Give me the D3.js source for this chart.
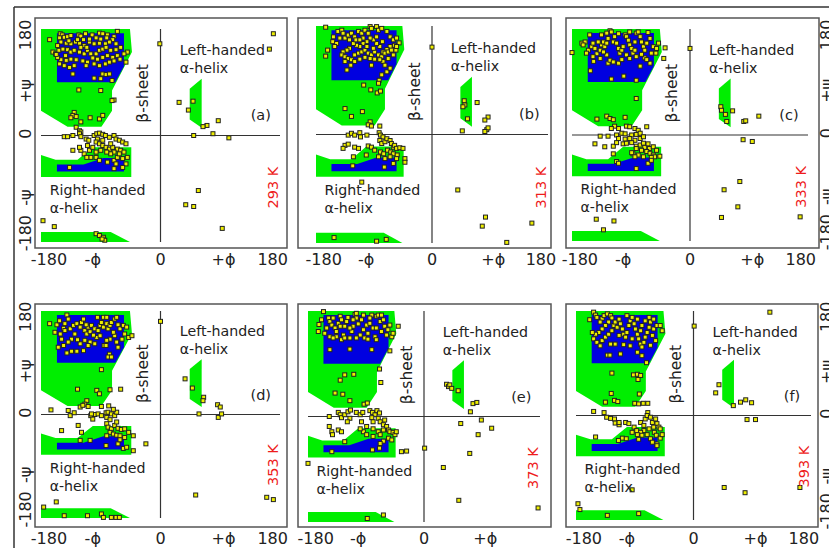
<!DOCTYPE html>
<html><head><meta charset="utf-8">
<script src="https://cdn.jsdelivr.net/npm/d3@7"></script>
<style>html,body{margin:0;padding:0;background:#fff;}svg{display:block;font-family:"DejaVu Sans",sans-serif;}</style>
</head><body><svg id="chart" width="829" height="548"></svg>
<script>
// ---------- DATA ----------
const panelLetters = ["(a)","(b)","(c)","(d)","(e)","(f)"];
const temperatures = ["293 K","313 K","333 K","353 K","373 K","393 K"];
const xTickValues = [-168,-102,0,95,169];
const xTickLabels = ["-180","-\u03d5","0","+\u03d5","180"];
const yTickValues = [170,75,3,-105,-165];
const yTickLabels = ["180","+\u03c8","0","-\u03c8","-180"];

// allowed regions (phi, psi in degrees)
const greenRegions = [
  [[-180,180],[-46,180],[-43,141],[-73,76],[-73,42],[-89,15],[-140,15],[-180,42]],
  [[-180,-33],[-158,-41],[-125,-41],[-102,-20],[-44,-20],[-44,-70],[-180,-70]],
  [[-180,-163],[-75,-163],[-46,-180],[-180,-180]],
  [[44,79],[62,96],[62,13],[44,27]]
];
const blueRegions = [
  [[-156,173],[-55,173],[-55,117],[-68,90],[-156,90]],
  [[-156,-49],[-116,-49],[-86,-38],[-55,-38],[-55,-61],[-156,-61]]
];

const pointsA = [
[-167,162],[-151,172],[-148,170],[-152,165],[-145,166],[-140,167],[-135,169],[-123,170],[-120,168],[-113,172],[-103,170],[-92,173],[-87,172],[-80,170],[-70,167],[-65,176],[-72,162],[-77,158],[-83,155],[-92,156],[-100,155],[-107,158],[-115,152],[-122,156],[-128,158],[-135,155],[-142,156],[-150,158],[-155,152],[-162,141],[-158,138],[-153,144],[-147,146],[-140,145],[-135,141],[-130,144],[-122,141],[-115,138],[-110,144],[-105,138],[-97,138],[-92,144],[-87,146],[-82,149],[-75,144],[-67,145],[-60,149],[-50,141],[-55,138],[-65,135],[-72,132],[-80,135],[-87,132],[-95,129],[-102,131],[-110,124],[-117,126],[-127,128],[-135,129],[-142,127],[-150,128],[-155,132],[-145,118],[-137,115],[-130,118],[-112,118],[-100,121],[-92,118],[-83,121],[-77,124],[-70,126],[-61,129],[-52,124],[-132,104],[-87,104],[-82,103],[-77,104],[-100,97],[-90,96],[-73,93],[-157,137],[-143,135],[-120,149],[-111,149],[-90,163],[-81,165],[-125,162],[-138,160],[-67,155],[-107,163],[-97,165],[-116,162],[-152,121],
[-123,77],[-90,76],[-70,60],[-73,59],[-130,39],[-132,34],[-135,30],[-127,32],[-120,23],[-106,30],[-92,28],[-87,34],[-127,14],[-122,8],[-120,6],
[-145,-2],[-140,-2],[-132,0],[-122,3],[-120,-2],[-112,-6],[-108,-8],[-100,0],[-96,3],[-92,4],[-87,2],[-83,0],[-77,-3],[-70,0],[-67,-6],[-62,-8],[-57,-11],[-52,-14],[-95,-6],[-97,-11],[-92,-14],[-87,-17],[-82,-20],[-77,-23],[-72,-20],[-65,-23],[-60,-25],[-55,-28],[-70,-28],[-75,-31],[-81,-28],[-90,-25],[-97,-28],[-107,-25],[-115,-31],[-120,-25],[-132,-25],[-110,-17],[-102,-20],[-97,-37],[-105,-37],[-111,-37],[-92,-42],[-80,-45],[-70,-42],[-65,-37],[-57,-39],[-52,-48],[-70,-56],[-137,-54],[-50,-37],[-75,-14],[-122,-20],[-87,-8],[-62,-31],[-67,-48],[-57,-54],
[-177,-144],[-160,-154],[-97,-166],[-92,-169],[-86,-172],[-84,-177],[-88,-175],
[-1,155],[170,172],[164,146],[28,56],[49,58],[42,43],[87,25],[70,17],[64,15],[50,0],[79,3],[103,-4],[57,-93],[38,-117],[50,-120],[93,-157]
];
const pointsB = [
[-165,178],[-153,162],[-154,154],[-162,140],[-165,130],[-146,171],[-140,173],[-138,168],[-143,160],[-148,151],[-151,146],[-135,160],[-130,165],[-125,168],[-120,162],[-114,171],[-109,168],[-104,173],[-96,179],[-94,176],[-86,179],[-83,173],[-78,176],[-70,171],[-65,162],[-60,157],[-55,160],[-51,152],[-58,148],[-65,146],[-70,141],[-76,137],[-81,146],[-86,151],[-91,157],[-96,160],[-101,154],[-107,151],[-112,146],[-117,148],[-122,151],[-128,143],[-132,140],[-138,137],[-140,132],[-135,129],[-130,126],[-125,124],[-120,132],[-114,135],[-109,137],[-104,140],[-99,135],[-94,132],[-89,137],[-83,132],[-78,129],[-73,135],[-68,137],[-63,140],[-56,140],[-60,132],[-68,126],[-76,121],[-81,124],[-89,125],[-96,126],[-104,128],[-112,125],[-120,121],[-126,115],[-132,107],[-135,121],[-73,115],[-70,104],[-78,99],[-82,90],[-65,110],[-107,160],[-99,168],[-118,157],[-91,143],[-101,146],[-128,157],[-112,157],[-86,162],[-55,146],[-77,154],[-94,115],
[-106,82],[-83,85],[-95,74],[-85,69],[-80,72],[-135,43],[-108,38],[-125,30],[-96,21],[-99,16],[-94,14],[-81,14],
[-130,-1],[-125,2],[-120,-1],[-112,3],[-111,-4],[-101,-1],[-82,3],[-80,-1],[-76,-4],[-135,-18],[-138,-23],[-130,-16],[-120,-21],[-114,-23],[-99,-19],[-94,-21],[-89,-26],[-81,-10],[-78,-15],[-73,-12],[-70,-7],[-65,-10],[-63,-15],[-60,-21],[-58,-18],[-55,-23],[-50,-22],[-45,-23],[-80,-29],[-75,-32],[-69,-26],[-64,-29],[-60,-32],[-54,-34],[-42,-40],[-42,-46],[-122,-37],[-102,-34],[-83,-37],[-73,-40],[-65,-37],[-55,-40],[-123,-52],[-74,-54],[-60,-48],[-109,-79],
[-152,-171],[-86,-177],[-71,-174],
[0,145],[50,56],[51,49],[48,46],[70,53],[55,26],[87,29],[82,24],[85,8],[87,11],[82,5],[47,6],[40,-92],[83,-137],[78,-152],[155,-147],[116,-179]
];
const pointsC = [
[-180,140],[-165,156],[-160,158],[-163,153],[-153,170],[-152,109],[-155,144],[-150,150],[-148,156],[-145,147],[-142,138],[-137,144],[-135,153],[-132,158],[-130,150],[-127,156],[-125,164],[-122,177],[-120,175],[-117,158],[-115,167],[-112,156],[-109,147],[-107,139],[-104,144],[-102,150],[-99,170],[-97,167],[-94,161],[-92,153],[-89,147],[-87,139],[-84,144],[-82,173],[-79,175],[-76,167],[-74,158],[-71,150],[-69,144],[-66,156],[-64,174],[-61,164],[-59,139],[-56,150],[-51,147],[-52,139],[-48,156],[-38,148],[-40,130],[-61,122],[-76,117],[-82,93],[-120,95],[-101,100],[-125,122],[-122,127],[-117,124],[-109,122],[-104,128],[-127,136],[-137,130],[-148,133],[-132,141],[-97,136],[-92,130],[-69,131],[-74,137],[-82,133],[-140,158],[-147,125],[-92,175],[-109,172],[-127,173],[-135,170],[-158,139],[-84,158],[-66,128],
[-82,62],[-142,27],[-127,32],[-122,28],[-117,26],[-99,30],[-109,11],[-115,15],[-120,11],[-97,15],[-92,14],[-84,11],[-66,14],[-79,8],
[-137,-2],[-125,-2],[-112,0],[-104,3],[-99,2],[-89,0],[-82,1],[-76,3],[-109,-6],[-99,-7],[-92,-6],[-84,-9],[-76,-6],[-71,-3],[-145,-15],[-130,-20],[-117,-19],[-112,-13],[-102,-15],[-97,-14],[-89,-13],[-82,-19],[-76,-17],[-71,-14],[-69,-21],[-64,-15],[-62,-23],[-56,-20],[-51,-26],[-82,-23],[-74,-26],[-66,-28],[-61,-31],[-56,-34],[-46,-36],[-54,-37],[-59,-38],[-71,-37],[-79,-34],[-87,-32],[-89,-30],[-84,-37],[-117,-32],[-112,-45],[-109,-48],[-82,-57],[-64,-48],[-59,-43],
[-143,-143],[-116,-146],[-132,-161],
[0,147],[47,48],[48,42],[54,35],[65,41],[56,23],[82,23],[85,24],[105,32],[81,-8],[95,-11],[76,-79],[52,-93],[73,-122],[48,-140],[168,-139]
];
const pointsD = [
[-167,158],[-156,156],[-152,163],[-141,173],[-139,166],[-146,150],[-159,143],[-151,140],[-149,131],[-154,117],[-144,146],[-136,149],[-131,155],[-126,158],[-121,152],[-119,160],[-116,166],[-129,140],[-134,131],[-139,126],[-114,146],[-111,140],[-106,144],[-109,152],[-104,155],[-99,149],[-94,146],[-91,155],[-89,160],[-86,152],[-81,158],[-79,149],[-76,155],[-74,160],[-69,166],[-66,169],[-64,156],[-61,149],[-56,155],[-51,152],[-54,140],[-48,134],[-43,137],[-58,131],[-69,137],[-76,131],[-81,129],[-85,120],[-99,123],[-106,126],[-114,129],[-121,123],[-116,111],[-126,110],[-134,110],[-141,107],[-77,105],[-79,100],[-74,100],[-82,120],[-96,134],[-91,137],[-71,143],[-66,126],[-101,138],[-125,130],[-112,156],[-95,169],[-86,169],[-81,169],[-109,120],[-146,120],[-144,158],[-64,117],
[-89,78],[-125,44],[-96,42],[-92,36],[-76,43],[-60,44],[-111,24],[-114,18],[-89,14],[-78,15],
[-165,8],[-139,7],[-136,-2],[-130,3],[-121,13],[-117,16],[-109,14],[-105,-2],[-102,-8],[-99,0],[-94,1],[-89,-2],[-82,3],[-79,4],[-74,1],[-69,-2],[-66,4],[-71,9],[-104,1],[-81,-5],[-76,-9],[-149,-28],[-124,-19],[-119,-31],[-121,-45],[-106,-45],[-81,-16],[-79,-22],[-74,-25],[-69,-19],[-66,-13],[-64,-24],[-59,-26],[-54,-25],[-48,-31],[-41,-37],[-76,-31],[-71,-34],[-66,-36],[-61,-37],[-54,-40],[-81,-37],[-64,-51],[-56,-59],[-51,-57],[-41,-63],[-22,-51],[-82,-54],[-61,-44],
[-176,-161],[-157,-152],[-145,-176],[-110,-176],[-89,-173],[-86,-179],[-74,-179],[-67,-179],[-62,-179],
[0,162],[37,62],[48,46],[65,30],[64,24],[58,1],[86,17],[90,13],[87,-5],[92,1],[53,-140],[160,-144],[170,-148]
];
const pointsE = [
[-156,179],[-159,165],[-163,157],[-164,145],[-148,168],[-146,162],[-143,156],[-151,151],[-154,142],[-141,168],[-138,151],[-136,145],[-133,159],[-130,171],[-128,165],[-125,139],[-123,154],[-120,162],[-118,169],[-115,134],[-112,145],[-110,154],[-107,174],[-105,176],[-102,158],[-99,139],[-97,165],[-94,148],[-92,134],[-89,156],[-87,142],[-84,159],[-81,173],[-79,151],[-76,136],[-74,171],[-71,173],[-68,162],[-66,145],[-63,165],[-61,154],[-58,139],[-56,148],[-53,156],[-50,136],[-48,142],[-40,154],[-53,112],[-69,81],[-146,114],[-115,115],[-81,114],[-146,136],[-136,136],[-128,131],[-105,134],[-87,132],[-74,131],[-141,134],[-115,151],[-74,151],[-105,168],[-94,173],[-130,154],[-66,173],[-84,168],[-123,134],[-110,165],
[-109,72],[-123,71],[-130,62],[-67,58],[-138,40],[-126,38],[-115,27],[-93,21],[-88,23],
[-147,0],[-133,7],[-130,3],[-128,-2],[-123,3],[-118,8],[-114,11],[-115,-3],[-119,-9],[-105,7],[-99,3],[-95,7],[-97,-9],[-84,10],[-80,7],[-76,3],[-73,10],[-69,6],[-81,-2],[-79,-9],[-71,-3],[-68,-9],[-61,-6],[-63,-14],[-58,-17],[-55,-23],[-53,-26],[-48,-27],[-45,-31],[-43,-26],[-63,-23],[-71,-26],[-79,-21],[-89,-17],[-94,-26],[-99,-21],[-147,-17],[-143,-26],[-142,-31],[-133,-23],[-128,-26],[-89,-31],[-79,-34],[-68,-31],[-55,-37],[-50,-40],[-63,-42],[-68,-46],[-123,-43],[-69,-54],[-80,-57],[-143,-60],[-35,-60],[-27,-59],[-180,-80],
[-88,-174],[-63,-168],
[1,-54],[35,55],[38,51],[40,54],[43,48],[53,44],[76,22],[82,24],[72,8],[57,-12],[89,-6],[105,-20],[84,-31],[71,-63],[30,-87],[54,-143],[177,-156]
];
const pointsF = [
[-159,165],[-153,178],[-150,173],[-148,169],[-140,167],[-143,161],[-137,172],[-132,175],[-127,172],[-125,168],[-130,161],[-135,155],[-140,149],[-145,143],[-150,140],[-155,143],[-153,132],[-148,126],[-140,129],[-135,135],[-130,140],[-125,146],[-122,155],[-120,161],[-117,152],[-114,166],[-112,158],[-109,149],[-107,140],[-104,135],[-102,143],[-99,155],[-97,163],[-94,169],[-91,158],[-89,149],[-86,140],[-84,132],[-81,123],[-79,118],[-76,126],[-74,135],[-71,143],[-68,152],[-66,161],[-68,169],[-74,163],[-79,155],[-81,146],[-63,138],[-61,149],[-56,155],[-51,155],[-48,146],[-58,129],[-66,121],[-72,91],[-86,109],[-79,103],[-112,106],[-132,104],[-128,104],[-107,122],[-120,123],[-97,120],[-94,132],[-127,123],[-143,120],[-114,138],[-102,172],[-86,166],[-61,166],
[-125,73],[-92,70],[-86,71],[-81,69],[-85,62],[-126,38],[-83,37],[-135,23],[-121,26],[-116,24],[-90,21],[-84,20],[-77,21],[-70,21],
[-153,7],[-137,5],[-133,-3],[-127,-5],[-121,-6],[-120,-13],[-114,-16],[-114,-12],[-104,-12],[-99,-14],[-91,-20],[-87,-26],[-81,-12],[-76,-17],[-74,-6],[-70,5],[-71,0],[-66,-3],[-63,-12],[-58,-6],[-56,-14],[-53,-20],[-51,-23],[-61,-20],[-68,-23],[-76,-26],[-81,-29],[-86,-33],[-94,-29],[-79,-34],[-71,-33],[-66,-40],[-60,-29],[-57,-34],[-51,-39],[-48,-33],[-56,-49],[-63,-46],[-109,-39],[-115,-43],[-103,-40],[-150,-37],[-56,-52],[-84,-41],
[-177,-152],[-174,-162],[-132,-172],[-84,-169],
[1,154],[117,178],[39,53],[34,39],[61,17],[72,23],[80,27],[89,22],[82,-7],[95,-7],[47,-124],[79,-133],[163,-124],[-94,-128]
];
const panelPoints = [pointsA,pointsB,pointsC,pointsD,pointsE,pointsF];

// ---------- LAYOUT ----------
const layout = [
  {box:[35,18,287,248],  x:[41,280],  y:[242,29],  leftY:true},
  {box:[298,18,551,248], x:[316,548], y:[243,26]},
  {box:[566,18,819,248], x:[572,808], y:[241,29],  rightY:true},
  {box:[35,304,287,527], x:[41,280],  y:[518,311], leftY:true},
  {box:[298,304,551,527],x:[308,540], y:[522,311], skipLastX:true},
  {box:[566,304,818,527],x:[576,811], y:[520,311], rightY:true}
];

const svg = d3.select("#chart");
const GREEN = "#00ee00", BLUE = "#0000e0", RED = "#ee1c1c";

// outer frame
svg.append("line").attr("x1",14).attr("x2",14).attr("y1",7).attr("y2",548).attr("stroke","#333").attr("stroke-width",1.5);
svg.append("line").attr("x1",14).attr("x2",829).attr("y1",7).attr("y2",7).attr("stroke","#333").attr("stroke-width",1.5);

layout.forEach((L,i)=>{
  const g = svg.append("g");
  const xs = d3.scaleLinear().domain([-180,180]).range(L.x);
  const ys = d3.scaleLinear().domain([-180,180]).range(L.y);
  const line = d3.line().x(d=>xs(d[0])).y(d=>ys(d[1]));
  const [bx0,by0,bx1,by1] = L.box;

  g.append("rect").attr("x",bx0).attr("y",by0).attr("width",bx1-bx0).attr("height",by1-by0)
    .attr("fill","#fff").attr("stroke","#555").attr("stroke-width",1.5);

  greenRegions.forEach(r=>g.append("path").attr("d",line(r)+"Z").attr("fill",GREEN));
  blueRegions.forEach(r=>g.append("path").attr("d",line(r)+"Z").attr("fill",BLUE));

  // axis cross
  g.append("line").attr("x1",xs(-180)).attr("x2",xs(180)).attr("y1",ys(0)).attr("y2",ys(0)).attr("stroke","#333").attr("stroke-width",1.2);
  g.append("line").attr("x1",xs(0)).attr("x2",xs(0)).attr("y1",ys(180)).attr("y2",ys(-180)).attr("stroke","#333").attr("stroke-width",1.2);

  // points
  g.selectAll("rect.pt").data(panelPoints[i]).enter().append("rect").attr("class","pt")
    .attr("x",d=>xs(d[0])-2).attr("y",d=>ys(d[1])-2).attr("width",4).attr("height",4)
    .attr("fill","#eeee00").attr("stroke","#222").attr("stroke-width",1);

  // annotations
  const ann = (t,phi,psi,size,anchor)=>g.append("text").attr("x",xs(phi)).attr("y",ys(psi))
      .attr("font-size",size).attr("text-anchor",anchor||"start").attr("fill","#222").text(t);
  ann("Left-handed",29,136,14.2);
  g.append("text").attr("x",xs(29)).attr("y",ys(136)+18).attr("font-size",14.2).attr("fill","#222").text("\u03b1-helix");
  ann("Right-handed",-167,-101,14.2);
  g.append("text").attr("x",xs(-167)).attr("y",ys(-101)+18).attr("font-size",14.2).attr("fill","#222").text("\u03b1-helix");
  g.append("text").attr("x",xs(151)).attr("y",ys(34)).attr("font-size",14.5).attr("text-anchor","middle")
    .attr("dominant-baseline","central").attr("fill","#222").text(panelLetters[i]);
  g.append("text").attr("transform",`translate(${xs(-27)},${ys(71)}) rotate(-90)`).attr("font-size",15.5)
    .attr("text-anchor","middle").attr("dominant-baseline","central").attr("fill","#222").text("\u03b2-sheet");
  g.append("text").attr("transform",`translate(${xs(169)},${ys(-88)}) rotate(-90)`).attr("font-size",14.5)
    .attr("text-anchor","middle").attr("dominant-baseline","central").attr("fill",RED).text(temperatures[i]);

  // x tick labels
  xTickValues.forEach((v,k)=>{
    if (L.skipLastX && k===xTickValues.length-1) return;
    g.append("text").attr("x",xs(v)).attr("y",by1+17).attr("font-size",16).attr("text-anchor","middle")
      .attr("fill","#222").text(xTickLabels[k]);
  });
  // y tick labels
  const yLab = (xc)=>yTickValues.forEach((v,k)=>{
    g.append("text").attr("transform",`translate(${xc},${ys(v)}) rotate(-90)`).attr("font-size",16)
      .attr("text-anchor","middle").attr("dominant-baseline","central").attr("fill","#222").text(yTickLabels[k]);
  });
  if (L.leftY) yLab(25);
  if (L.rightY) yLab(826);
});
</script></body></html>
